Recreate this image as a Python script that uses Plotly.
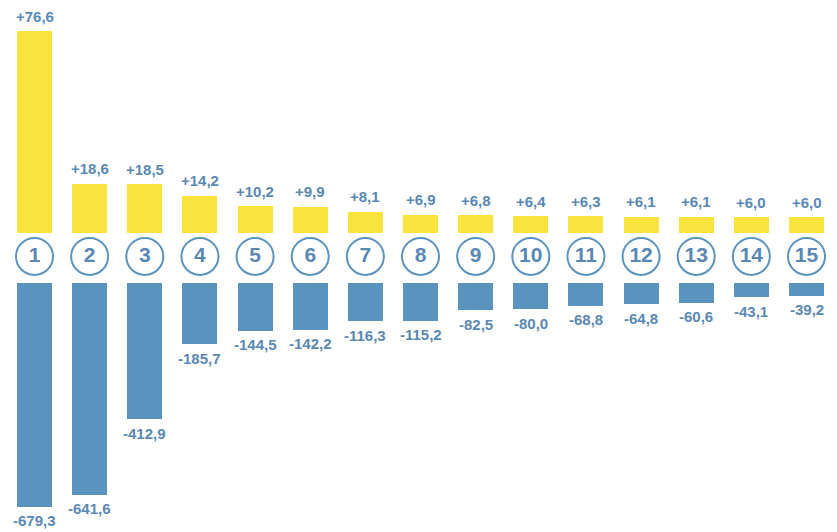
import plotly.graph_objects as go

ranks = list(range(1, 16))
gains = [76.6, 18.6, 18.5, 14.2, 10.2, 9.9, 8.1, 6.9, 6.8, 6.4, 6.3, 6.1, 6.1, 6.0, 6.0]
losses = [-679.3, -641.6, -412.9, -185.7, -144.5, -142.2, -116.3, -115.2,
          -82.5, -80.0, -68.8, -64.8, -60.6, -43.1, -39.2]
rank_labels = [str(r) for r in ranks]

YELLOW = "#FBE33E"
BLUE = "#5B93BF"
TEXT = "#5A88B4"
FONT = "Liberation Sans"

def fmt(v, sign):
    s = f"{abs(v):.1f}".replace(".", ",")
    return ("+" if sign else "-") + s

gain_text = [fmt(v, True) for v in gains]
loss_text = [fmt(v, False) for v in losses]

fig = go.Figure()

fig.add_trace(go.Bar(
    x=ranks, y=gains, marker=dict(color=YELLOW, line=dict(width=0)),
    width=0.635, xaxis="x", yaxis="y", showlegend=False, hoverinfo="skip",
))
fig.add_trace(go.Bar(
    x=ranks, y=losses, marker=dict(color=BLUE, line=dict(width=0)),
    width=0.635, xaxis="x", yaxis="y2", showlegend=False, hoverinfo="skip",
))
fig.add_trace(go.Scatter(
    x=ranks, y=[0] * len(ranks), mode="markers+text",
    text=rank_labels, textposition="middle center",
    textfont=dict(family=FONT, size=21, color=TEXT, weight="bold"),
    marker=dict(symbol="circle", size=37, color="white",
                line=dict(color=BLUE, width=2)),
    xaxis="x", yaxis="y3", showlegend=False, hoverinfo="skip", cliponaxis=False,
))

annotations = []
for r, v, t in zip(ranks, gains, gain_text):
    annotations.append(dict(x=r, y=v, xref="x", yref="y", text=t, showarrow=False,
                            yanchor="middle", yshift=15,
                            font=dict(family=FONT, size=15, color=TEXT, weight="bold")))
for r, v, t in zip(ranks, losses, loss_text):
    annotations.append(dict(x=r, y=v, xref="x", yref="y2", text=t, showarrow=False,
                            yanchor="middle", yshift=-14,
                            font=dict(family=FONT, size=15, color=TEXT, weight="bold")))

fig.update_layout(
    width=829, height=524,
    margin=dict(l=0, r=0, t=0, b=0),
    paper_bgcolor="white", plot_bgcolor="white",
    xaxis=dict(range=[0.5194, 15.553], visible=False, fixedrange=True),
    yaxis=dict(domain=[0.5706, 0.9981], range=[0, 85], visible=False),
    yaxis2=dict(domain=[0.00954, 0.4752], range=[-740, 0], visible=False),
    yaxis3=dict(domain=[0.4958, 0.5558], range=[-1, 1], visible=False),
    bargap=0,
    annotations=annotations,
)
fig.write_html("out.html")
